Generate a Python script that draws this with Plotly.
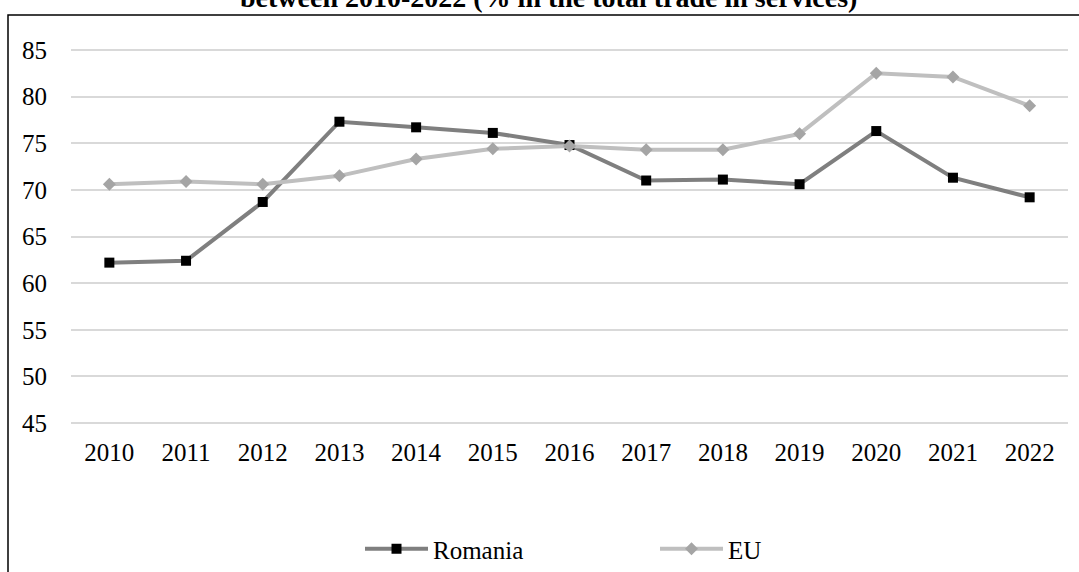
import plotly.graph_objects as go

years = ["2010", "2011", "2012", "2013", "2014", "2015", "2016",
         "2017", "2018", "2019", "2020", "2021", "2022"]
romania = [62.2, 62.4, 68.7, 77.3, 76.7, 76.1, 74.8, 71.0, 71.1, 70.6, 76.3, 71.3, 69.2]
eu = [70.6, 70.9, 70.6, 71.5, 73.3, 74.4, 74.7, 74.3, 74.3, 76.0, 82.5, 82.1, 79.0]
y_ticks = [45, 50, 55, 60, 65, 70, 75, 80, 85]
title_text = "between 2010-2022 (% in the total trade in services)"

FONT = "Liberation Serif, Times New Roman, serif"
FS = 25

fig = go.Figure()
fig.add_trace(go.Scatter(
    x=years, y=romania, name="Romania", mode="lines+markers",
    line=dict(color="#7f7f7f", width=4),
    marker=dict(symbol="square", size=10, color="#000000"),
))
fig.add_trace(go.Scatter(
    x=years, y=eu, name="EU", mode="lines+markers",
    line=dict(color="#bfbfbf", width=4),
    marker=dict(symbol="diamond", size=10, color="#a5a5a5"),
))

L, R, T, B = 71, 11, 48, 147
W, H = 1079, 572
pw = W - L - R
ph = H - T - B

def px2x(px):
    return (px - L) / pw

def py2y(py):
    return (H - B - py) / ph

fig.update_layout(
    width=W, height=H,
    margin=dict(l=L, r=R, t=T, b=B, autoexpand=False),
    paper_bgcolor="white", plot_bgcolor="white",
    font=dict(family=FONT, size=FS, color="#000000"),
    showlegend=True,
    legend=dict(
        orientation="h", xref="container", yref="container",
        x=360 / W, xanchor="left", y=(H - 549) / H, yanchor="middle",
        itemwidth=63, entrywidth=217, entrywidthmode="pixels",
        font=dict(family=FONT, size=FS), traceorder="normal",
        itemclick=False,
    ),
    xaxis=dict(
        type="category", range=[-0.5, 12.5], showgrid=False, zeroline=False,
        showline=False, ticks="", tickfont=dict(family=FONT, size=FS),
        ticklabelstandoff=10, automargin=False,
    ),
    yaxis=dict(
        range=[44.8, 85.2], tickvals=y_ticks, showgrid=True, gridcolor="#d9d9d9",
        gridwidth=1.5, zeroline=False, showline=False, ticks="",
        tickfont=dict(family=FONT, size=FS), ticklabelstandoff=23, automargin=False,
    ),
    shapes=[dict(
        type="rect", xref="paper", yref="paper",
        x0=px2x(8), x1=px2x(1100), y0=py2y(600), y1=py2y(15),
        line=dict(color="#000000", width=1.5), layer="below",
    )],
    annotations=[dict(
        text="<b>" + title_text + "</b>", xref="paper", yref="paper",
        x=px2x(548), y=py2y(-3), xanchor="center", yanchor="middle",
        showarrow=False, font=dict(family=FONT, size=28, color="#000000"),
    )],
)

fig.write_html("out.html")
